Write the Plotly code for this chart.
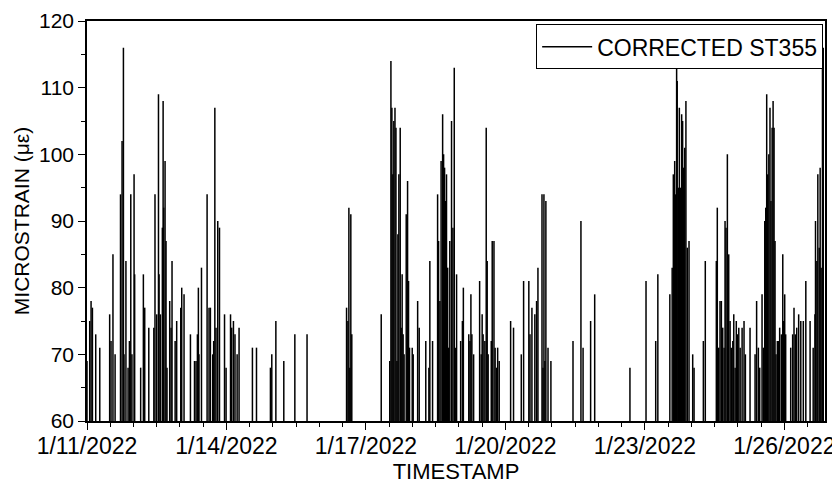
import pandas as pd
import plotly.graph_objects as go

# Spike readings: hours after 2022-01-11 00:00 and peak microstrain
hours = [
    0.0, 1.4, 2.1, 2.8, 4.5, 6.6, 11.7, 12.4, 13.4, 14.5, 17.3, 18.1, 18.8, 19.1, 20.1, 21.2, 21.9,
    22.6, 23.2, 24.3, 24.6, 27.7, 29.1, 29.8, 31.9, 34.5, 35.1, 36.0, 36.9, 37.2, 37.9, 38.9, 39.3,
    39.6, 40.3, 40.8, 41.3, 42.7, 43.4, 43.9, 45.5, 46.3, 48.4, 48.9, 50.1, 53.4, 55.5, 56.3, 57.0,
    57.5, 57.8, 59.1, 62.0, 63.0, 63.7, 64.9, 65.4, 66.0, 66.6, 67.5, 68.4, 71.0, 71.8, 74.1, 74.7,
    75.6, 76.4, 77.5, 78.5, 85.4, 87.5, 94.7, 95.4, 97.5,
    101.6, 107.3, 113.6, 134.0, 134.7, 135.2, 135.7, 136.2, 136.7, 151.9, 156.3, 156.9, 157.4,
    157.9, 158.4, 159.0, 159.5, 160.0, 160.5, 161.0, 161.7, 162.2, 162.7, 163.2, 163.7, 164.8,
    165.5, 166.0, 166.5, 167.9, 168.4, 170.7, 171.5, 174.9, 176.5, 177.0, 178.4, 181.0, 181.5,
    182.2, 182.8, 183.6, 184.1, 184.6, 185.1, 185.6, 186.2, 186.7, 187.3, 188.2, 188.9, 189.6,
    190.1, 190.8, 192.9, 193.8, 194.3, 197.1,
    197.7, 198.2, 198.7, 199.6, 202.7, 203.5, 204.0, 204.5, 205.4, 206.1, 206.6, 207.1, 208.7,
    209.2, 210.1, 210.7, 211.5, 212.0, 212.8, 218.7, 220.2, 224.2, 225.4, 228.1, 228.7, 229.7,
    231.2, 232.1, 232.8, 234.9, 235.4, 235.9, 236.4, 236.9, 238.0, 239.5, 250.9, 255.0, 256.1,
    260.0, 262.1, 280.3, 288.6, 293.6, 294.7,
    300.9, 302.1, 302.7, 303.4, 303.7, 304.4, 304.7, 305.3, 305.8, 306.3, 307.0, 307.5, 308.0,
    308.6, 309.2, 309.9, 310.8, 312.7, 313.4, 318.2, 319.2, 324.9, 325.4, 326.1, 326.8, 327.5,
    328.2, 328.9, 329.4, 329.9, 330.6, 331.3, 332.0, 332.6, 333.4, 333.9, 334.6, 335.2, 335.7,
    336.5, 337.2, 338.2, 339.2, 339.9, 342.3, 344.9, 345.7, 346.6, 347.3, 348.5, 349.2, 349.9,
    350.4, 350.9, 351.4, 352.0, 352.6, 353.1, 353.7, 354.2, 354.7, 355.2, 355.7, 356.4, 357.1,
    357.6, 358.5, 359.2, 359.5, 360.2, 360.7, 363.3, 364.3, 365.0, 365.7, 366.4, 367.4, 368.5,
    369.8, 371.1, 373.3, 374.9, 375.8, 376.1, 376.8, 377.3, 378.0, 378.5, 379.0, 379.7, 380.1,
]
values = [
    69, 75, 78, 77, 73, 71, 76, 72, 85, 70, 94, 102, 116, 70, 84, 68, 72,
    94, 70, 97, 82, 68, 82, 77, 74, 74, 94, 76, 109, 82, 76, 89, 108,
    92, 99, 87, 68, 78, 74, 84, 72, 75, 77, 80, 79, 73, 69, 69, 73,
    80, 70, 83, 94, 77, 77, 70, 72, 107, 74, 90, 89, 76, 68, 76, 74,
    75, 73, 70, 74, 71, 71, 68, 70, 75,
    69, 73, 73, 77, 75, 92, 68, 91, 73, 76, 69, 114, 107,
    97, 105, 107, 104, 69, 88, 97, 104, 74, 82, 73, 70, 91,
    96, 81, 71, 71, 70, 78, 74, 72, 68, 84, 72, 94, 87,
    78, 99, 106, 100, 98, 93, 97, 83, 71, 87, 105, 89, 113,
    71, 82, 72, 75, 80, 73,
    72, 79, 73, 70, 81, 70, 76, 73, 72, 104, 84, 70, 72,
    87, 87, 71, 68, 71, 69, 75, 74, 70, 81, 81, 73, 77,
    76, 78, 83, 94, 68, 94, 69, 93, 71, 69, 72, 90, 71,
    75, 79, 68, 81, 72, 82,
    79, 83, 97, 99, 94, 113, 111, 95, 107, 95, 106, 105, 98,
    101, 108, 86, 87, 70, 68, 72, 84, 84, 92, 71, 78, 78,
    74, 71, 90, 89, 100, 85, 75, 71, 72, 76, 68, 75, 73,
    74, 71, 74, 75, 70, 74, 70, 78, 71, 68, 79, 71, 90,
    92, 109, 97, 100, 107, 93, 104, 108, 104, 87, 70, 72, 72,
    74, 73, 85, 75, 79, 73, 71, 73, 77, 73, 74, 76, 75,
    75, 81, 75, 71, 76, 90, 84, 97, 86, 98, 83, 114, 116,
]

start = pd.Timestamp("2022-01-11 00:00")
end_hours = 381.0
y_min, y_max = 60, 120
y_ticks = [60, 70, 80, 90, 100, 110, 120]
series_name = "CORRECTED ST355"

times = start + pd.to_timedelta(hours, unit="h")
xs, ys = [], []
for t, v in zip(times, values):
    xs += [t, t, None]
    ys += [y_min, v, None]

font = "Arial, Liberation Sans, sans-serif"
fig = go.Figure()
fig.add_trace(go.Scatter(x=xs, y=ys, mode="lines", name=series_name,
                         line=dict(color="black", width=1.5), connectgaps=False))

fig.update_layout(
    width=832, height=483,
    margin=dict(l=79, r=15, t=13, b=70),
    paper_bgcolor="white", plot_bgcolor="white",
    font=dict(family=font, size=21, color="black"),
    showlegend=True,
    legend=dict(x=0.9975, y=0.992, xanchor="right", yanchor="top",
                bordercolor="black", borderwidth=1, bgcolor="white",
                font=dict(size=23), itemwidth=50,
                tracegroupgap=0),
)
fig.update_xaxes(
    type="date", automargin=False,
    range=[start, start + pd.Timedelta(hours=end_hours)],
    tick0=start, dtick=3 * 24 * 3600 * 1000,
    tickformat="%-m/%-d/%Y",
    ticks="outside", ticklen=7, tickwidth=1.3, tickcolor="black",
    minor=dict(dtick=12 * 3600 * 1000, ticks="outside", ticklen=4, tickcolor="black", tickwidth=1.2),
    showline=True, linecolor="black", linewidth=1.5, mirror=True,
    showgrid=False, zeroline=False,
    title=dict(text="TIMESTAMP", font=dict(size=22), standoff=4),
    tickfont=dict(size=23), ticklabelstandoff=-3,
)
fig.update_yaxes(
    automargin=False,
    range=[y_min, y_max], tickvals=y_ticks,
    ticks="outside", ticklen=7, tickwidth=1.3, tickcolor="black",
    minor=dict(dtick=5, ticks="outside", ticklen=4, tickcolor="black", tickwidth=1.2),
    showline=True, linecolor="black", linewidth=1.5, mirror=True,
    showgrid=False, zeroline=False,
    title=dict(text="MICROSTRAIN (με)", font=dict(size=21), standoff=4),
    tickfont=dict(size=21),
)

fig.write_html("out.html")
